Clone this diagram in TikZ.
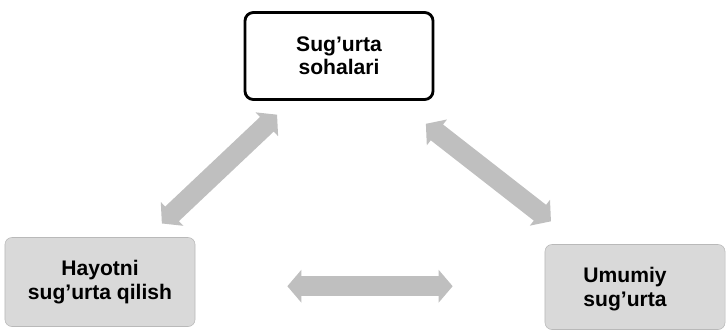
\documentclass[tikz,border=0pt]{standalone}
\usepackage{fontspec}
\setmainfont{Liberation Sans}
\usetikzlibrary{arrows.meta,positioning}
\tikzset{
  boxtext/.style={align=center, font=\fontsize{15}{16.5}\selectfont\bfseries},
  mainbox/.style={boxtext, draw=black, line width=2pt, rounded corners=6pt, fill=white},
  subbox/.style={boxtext, draw=gray!55, thin, rounded corners=5pt, fill=gray!30},
  twoway/.style={line width=0.5cm, draw=gray!50,
    {Triangle[width=0.8cm,length=0.35cm]}-{Triangle[width=0.8cm,length=0.35cm]}},
}
\begin{document}
\begin{tikzpicture}[x=0.025cm,y=-0.025cm]
        \useasboundingbox (0,0) rectangle (728,332);
        %Boxes
        \node[mainbox, minimum width=4.7cm, minimum height=2.175cm] (sohalar) at (339,56) {Sug'urta\\sohalari};
        \node[subbox, minimum width=4.75cm, minimum height=2.225cm] (hayot) at (100,282) {Hayotni\\sug'urta qilish};
        \node[subbox, minimum width=4.5cm, minimum height=2.125cm] (umumiy) at (635,287) {};
        \node[boxtext] (umumiytext) at (625,289) {Umumiy\\sug'urta};
        %Arrows
        \draw[twoway, shorten <=0.5cm, shorten >=0.5cm] (hayot) -- (sohalar);
        \draw[twoway, shorten <=0.93cm, shorten >=0.93cm] (sohalar) -- (umumiy);
        \draw[twoway, shorten <=2.3cm, shorten >=2.3cm] ([yshift=-3pt]hayot.east) -- ([yshift=-3pt]hayot.east -| umumiy.west);
      \end{tikzpicture}
\end{document}
